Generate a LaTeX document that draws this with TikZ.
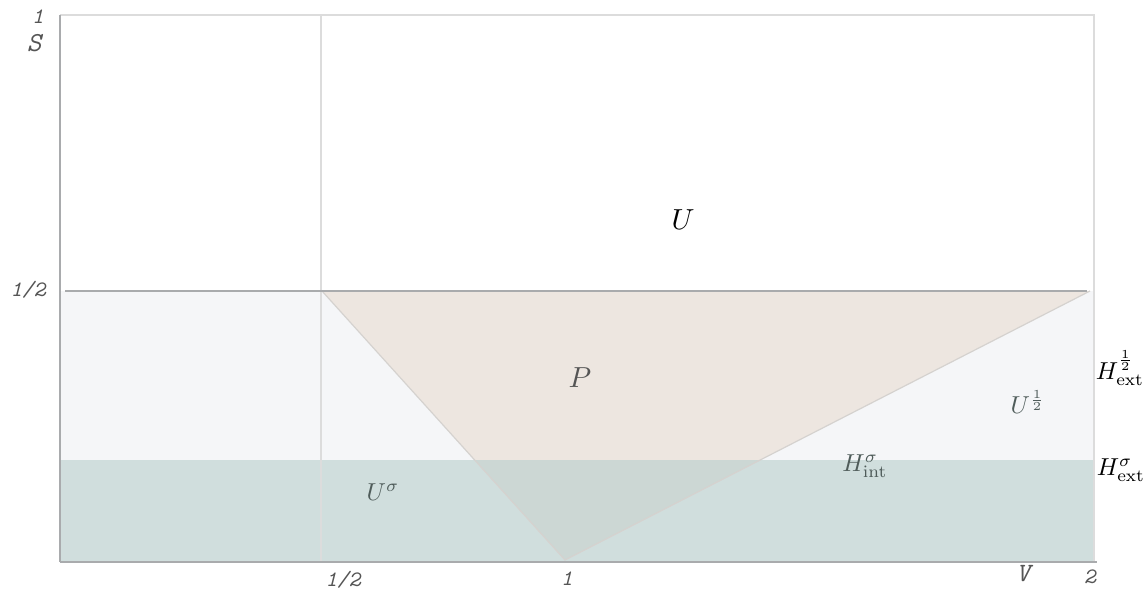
\documentclass[tikz,border=0pt]{standalone}
\usepackage{amsmath}
\definecolor{frame}{HTML}{DCDCDC}
\definecolor{axis}{HTML}{A9ABAD}
\definecolor{band}{HTML}{F5F6F8}
\definecolor{teal}{HTML}{D0DEDD}
\definecolor{beige}{HTML}{EDE6E0}
\definecolor{overlap}{HTML}{CCD7D4}
\definecolor{edge}{HTML}{D5D2CF}
\definecolor{tlab}{HTML}{555555}
\definecolor{glab}{HTML}{4F5C5A}
\tikzset{
  ticklab/.style={font=\ttfamily\itshape, text=tlab, inner sep=0pt, scale=2.2},
  reglab/.style={inner sep=0pt, scale=2.45},
  biglab/.style={inner sep=0pt, scale=2.9},
}
\begin{document}
\begin{tikzpicture}[x=1pt,y=-1pt]
\useasboundingbox (0,0) rectangle (1148,590);
% bands
\fill[band] (60,291) rectangle (1094,460);
\fill[teal] (60,460) rectangle (1094,562);
% triangle P
\coordinate (pa) at (322,291);
\coordinate (pb) at (1090,291);
\coordinate (pc) at (565,560);
\fill[beige] (pa) -- (pb) -- (pc) -- cycle;
\begin{scope}
\clip (60,460) rectangle (1094,562);
\fill[overlap] (pa) -- (pb) -- (pc) -- cycle;
\end{scope}
\draw[edge, line width=1.2pt] (pa) -- (pc) -- (pb);
% frame lines
\draw[frame, line width=1.2pt] (60,15) -- (1094,15) -- (1094,562);
\draw[frame, line width=1.2pt] (321,15) -- (321,562);
\draw[axis, line width=1.2pt] (60,15) -- (60,562);
\draw[axis, line width=1.2pt] (65,291) -- (1087,291);
\draw[axis, line width=1.5pt] (60,562) -- (1097,562);
% tick labels
\node[ticklab] (t1) at (38,17) {1};
\node[ticklab, scale=1.25] (ts) at (34,43) {S};
\node[ticklab] (th) at (28,290) {1/2};
\node[ticklab] (bh) at (343,580) {1/2};
\node[ticklab] (b1) at (567,579) {1};
\node[ticklab, scale=1.2] (bv) at (1023,574) {V};
\node[ticklab] (b2) at (1090,577) {2};
% region labels
\node[biglab] (lu) at (683,220) {$U$};
\node[biglab, text=tlab] (lp) at (580,378) {$P$};
\node[reglab, text=glab] (luh) at (1028,402) {$U^{\frac12}$};
\node[reglab, text=glab] (lhi) at (865,466) {$H^{\sigma}_{\mathrm{int}}$};
\node[reglab, text=glab] (lus) at (383,492) {$U^{\sigma}$};
\node[reglab] (lhe) at (1120,368) {$H^{\frac12}_{\mathrm{ext}}$};
\node[reglab] (lhs) at (1121,470) {$H^{\sigma}_{\mathrm{ext}}$};
\end{tikzpicture}
\end{document}
